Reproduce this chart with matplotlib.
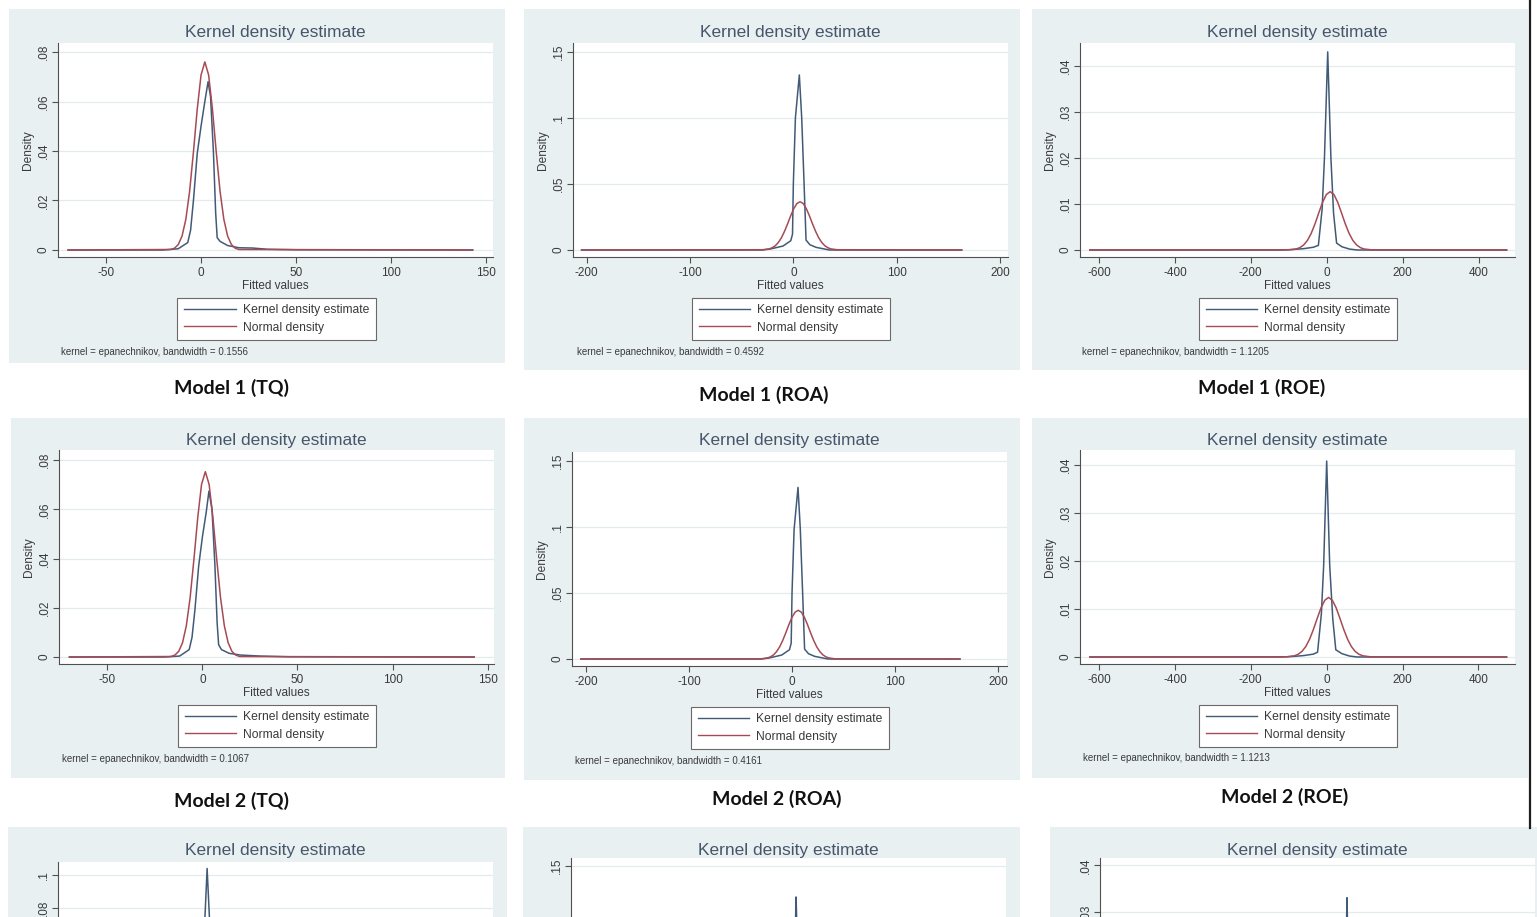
import matplotlib
matplotlib.use("Agg")
import matplotlib.pyplot as plt
from matplotlib.lines import Line2D
from matplotlib.patches import Rectangle

# ---------------------------------------------------------------- data
# Model 1 (TQ)
m1_tq_kde_x = [-70, -20, -12, -7, -5.5, -4, -2, 0, 2, 3.7, 5, 6.5, 7.7, 8.5, 10, 14, 20, 27, 35, 50, 143]
m1_tq_kde_y = [0, 0, 0.0005, 0.003, 0.008, 0.020, 0.039, 0.050, 0.060, 0.068, 0.062, 0.040, 0.015, 0.005,
               0.0035, 0.0018, 0.0009, 0.0008, 0.0003, 0.0001, 0]
m1_tq_norm_x = [-70, -16, -14, -12, -10, -8, -6, -4, -2, 0, 2, 4, 6, 8, 10, 12, 14, 16, 18, 20, 143]
m1_tq_norm_y = [0, 0.0002, 0.0007, 0.0022, 0.0056, 0.0124, 0.0238, 0.0396, 0.0569, 0.0707, 0.0760,
                0.0707, 0.0569, 0.0396, 0.0238, 0.0124, 0.0056, 0.0022, 0.0007, 0.0002, 0]

# Model 1 (ROA)
m1_roa_kde_x = [-205, -30, -22, -10, -2.5, -0.8, 0, 2, 5.8, 8.1, 10.4, 12.3, 16, 22, 35, 163]
m1_roa_kde_y = [0, 0, 0.0008, 0.003, 0.007, 0.012, 0.050, 0.100, 0.1324, 0.100, 0.050, 0.0075, 0.004,
                0.002, 0, 0]
m1_roa_norm_x = [-205, -29.5, -23.5, -20.5, -17.5, -14.5, -11.5, -8.5, -5.5, -2.5, 0.5, 3.5, 6.5, 9.5,
                 12.5, 15.5, 18.5, 21.5, 24.5, 27.5, 30.5, 33.5, 36.5, 42.5, 163]
m1_roa_norm_y = [0, 0.0002, 0.0008, 0.0017, 0.0032, 0.0057, 0.0093, 0.0142, 0.0199, 0.0260, 0.0314,
                 0.0352, 0.0365, 0.0352, 0.0314, 0.0260, 0.0199, 0.0142, 0.0093, 0.0057, 0.0032,
                 0.0017, 0.0008, 0.0002, 0]

# Model 1 (ROE)
m1_roe_kde_x = [-624, -120, -90, -60, -35, -22, -12, -6, 2.6, 11, 18, 26, 40, 60, 80, 474]
m1_roe_kde_y = [0, 0, 0.0001, 0.0003, 0.0006, 0.001, 0.009, 0.020, 0.043, 0.020, 0.008, 0.0015,
                0.0007, 0.0002, 0, 0]
m1_roe_norm_x = [-624, -101, -81, -71, -61, -51, -41, -31, -21, -11, -1, 9, 19, 29, 39, 49, 59, 69,
                 79, 89, 99, 119, 474]
m1_roe_norm_y = [0, 0.00003, 0.00021, 0.0005, 0.00107, 0.00206, 0.00359, 0.00565, 0.00804, 0.01035,
                 0.01204, 0.01266, 0.01204, 0.01035, 0.00804, 0.00565, 0.00359, 0.00206, 0.00107,
                 0.0005, 0.00021, 0.00003, 0]

# Model 2 (TQ)
m2_tq_kde_x = [-70, -20, -12, -7, -5.5, -4, -2, 0, 2, 3.4, 5, 6.5, 7.7, 8.5, 10, 14, 20, 30, 45, 143]
m2_tq_kde_y = [0, 0, 0.0004, 0.003, 0.008, 0.019, 0.037, 0.049, 0.059, 0.0674, 0.060, 0.038, 0.014,
               0.005, 0.003, 0.0015, 0.0008, 0.0004, 0.0001, 0]
m2_tq_norm_x = [-70, -16.5, -14.5, -12.5, -10.5, -8.5, -6.5, -4.5, -2.5, -0.5, 1.5, 3.5, 5.5, 7.5,
                9.5, 11.5, 13.5, 15.5, 17.5, 19.5, 143]
m2_tq_norm_y = [0, 0.0002, 0.0008, 0.0023, 0.0058, 0.0127, 0.0241, 0.0397, 0.0566, 0.0701, 0.0753,
                0.0701, 0.0566, 0.0397, 0.0241, 0.0127, 0.0058, 0.0023, 0.0008, 0.0002, 0]

# Model 2 (ROA)
m2_roa_kde_x = [-205, -30, -22, -10, -2.5, -0.8, 0, 2, 5.8, 8, 10.3, 12.2, 16, 22, 35, 163]
m2_roa_kde_y = [0, 0, 0.0008, 0.003, 0.007, 0.012, 0.050, 0.098, 0.130, 0.099, 0.050, 0.0075, 0.004,
                0.002, 0, 0]
m2_roa_norm_x = [-205, -30, -24, -21, -18, -15, -12, -9, -6, -3, 0, 3, 6, 9, 12, 15, 18, 21, 24, 27,
                 30, 33, 36, 42, 163]
m2_roa_norm_y = [0, 0.0001, 0.0008, 0.0016, 0.0031, 0.0056, 0.0092, 0.0141, 0.0199, 0.0261, 0.0316,
                 0.0355, 0.0369, 0.0355, 0.0316, 0.0261, 0.0199, 0.0141, 0.0092, 0.0056, 0.0031,
                 0.0016, 0.0008, 0.0001, 0]

# Model 2 (ROE)
m2_roe_kde_x = [-624, -120, -90, -60, -35, -24, -14, -8, 0, 8, 16, 24, 40, 60, 80, 474]
m2_roe_kde_y = [0, 0, 0.0001, 0.0003, 0.0006, 0.001, 0.009, 0.019, 0.0408, 0.019, 0.008, 0.0015,
                0.0007, 0.0002, 0, 0]
m2_roe_norm_x = [-624, -105, -85, -75, -65, -55, -45, -35, -25, -15, -5, 5, 15, 25, 35, 45, 55, 65,
                 75, 85, 95, 115, 474]
m2_roe_norm_y = [0, 0.00004, 0.00025, 0.00057, 0.00117, 0.00218, 0.00371, 0.00573, 0.00803, 0.01022,
                 0.01181, 0.0124, 0.01181, 0.01022, 0.00803, 0.00573, 0.00371, 0.00218, 0.00117,
                 0.00057, 0.00025, 0.00004, 0]

# Model 3 (top of the third row)
m3_tq_kde_x = [-70, -15, -5, -1, 1.5, 3.2, 5, 7.5, 12, 20, 143]
m3_tq_kde_y = [0, 0, 0.002, 0.006, 0.060, 0.104, 0.060, 0.006, 0.002, 0, 0]
m3_tq_norm_x = [-70, -16, -12, -8, -4, 0, 2, 4, 8, 12, 16, 20, 143]
m3_tq_norm_y = [0, 0.0003, 0.0025, 0.0135, 0.041, 0.066, 0.070, 0.066, 0.041, 0.0135, 0.0025, 0.0003, 0]
m3_roa_kde_x = [-205, -20, -3, 0, 1.5, 3, 4.5, 6, 9, 20, 163]
m3_roa_kde_y = [0, 0, 0.004, 0.008, 0.080, 0.1265, 0.080, 0.008, 0.004, 0, 0]
m3_roa_norm_x = [-205, -30, -20, -10, -5, 0, 5, 10, 15, 20, 30, 40, 163]
m3_roa_norm_y = [0, 0.0002, 0.002, 0.0139, 0.0241, 0.0333, 0.037, 0.0333, 0.0241, 0.0139, 0.002, 0.0002, 0]
m3_roe_kde_x = [-624, -60, -20, -8, -3, 0, 3, 8, 20, 60, 474]
m3_roe_kde_y = [0, 0, 0.001, 0.003, 0.020, 0.033, 0.020, 0.003, 0.001, 0, 0]
m3_roe_norm_x = [-624, -100, -70, -40, -20, 0, 20, 40, 70, 100, 474]
m3_roe_norm_y = [0, 0.0001, 0.0012, 0.0058, 0.0102, 0.0125, 0.0102, 0.0058, 0.0012, 0.0001, 0]

# ticks
tq_xticks = [-50, 0, 50, 100, 150]
roa_xticks = [-200, -100, 0, 100, 200]
roe_xticks = [-600, -400, -200, 0, 200, 400]
tq_yticks = [0, 0.02, 0.04, 0.06, 0.08]
tq_ylabels = ["0", ".02", ".04", ".06", ".08"]
roa_yticks = [0, 0.05, 0.1, 0.15]
roa_ylabels = ["0", ".05", ".1", ".15"]
roe_yticks = [0, 0.01, 0.02, 0.03, 0.04]
roe_ylabels = ["0", ".01", ".02", ".03", ".04"]
# third row: only the upper ticks fall on the page
tq3_yticks = [0.08, 0.1]
tq3_ylabels = [".08", ".1"]
roa3_yticks = [0.15]
roa3_ylabels = [".15"]
roe3_yticks = [0.03, 0.04]
roe3_ylabels = [".03", ".04"]

model1_labels = ["Model 1 (TQ)", "Model 1 (ROA)", "Model 1 (ROE)"]
model2_labels = ["Model 2 (TQ)", "Model 2 (ROA)", "Model 2 (ROE)"]
model1_bandwidths = ["0.1556", "0.4592", "1.1205"]
model2_bandwidths = ["0.1067", "0.4161", "1.1213"]
legend_labels = ["Kernel density estimate", "Normal density"]

# ---------------------------------------------------------------- style
PANEL_BG = "#E9F0F2"
KDE_COLOR = "#415A78"
NORM_COLOR = "#A54B55"
AXIS_COLOR = "#505050"
TEXT_COLOR = "#3A3A3A"
TITLE_COLOR = "#46566A"
GRID_COLOR = "#E4EBEE"
FONT = "Liberation Sans"
plt.rcParams["font.family"] = FONT

W, H = 1537, 917
fig = plt.figure(figsize=(W / 100, H / 100), dpi=100)
fig.patch.set_facecolor("white")


def fig_box(x0, y0, x1, y1):
    return [x0 / W, 1 - y1 / H, (x1 - x0) / W, (y1 - y0) / H]


def fig_pt(x, y):
    return x / W, 1 - y / H


def draw_panel(bg, plot, title_y, xlim, ylim, xticks, yticks, ylabels, kde, norm,
               legend_at=None, note=None, label=None, lower_texts=True):
    x0, y0, x1, y1 = bg
    fig.add_artist(Rectangle((x0 / W, 1 - y1 / H), (x1 - x0) / W, (y1 - y0) / H,
                             transform=fig.transFigure, facecolor=PANEL_BG,
                             edgecolor="none", zorder=-1))
    ax = fig.add_axes(fig_box(*plot))
    ax.set_facecolor("white")
    w_px = plot[2] - plot[0]
    h_px = plot[3] - plot[1]

    ax.plot(kde[0], kde[1], color=KDE_COLOR, lw=1.1, zorder=3)
    ax.plot(norm[0], norm[1], color=NORM_COLOR, lw=1.1, zorder=3)

    ax.set_xlim(*xlim)
    ax.set_ylim(*ylim)
    ax.set_xticks(xticks)
    ax.set_xticklabels([str(v) for v in xticks])
    ax.set_yticks(yticks)
    ax.set_yticklabels(ylabels, rotation=90, va="center")
    ax.tick_params(direction="out", length=4.5, width=0.8, color=AXIS_COLOR,
                   labelsize=8.5, labelcolor=TEXT_COLOR)
    ax.tick_params(axis="x", pad=3, labelbottom=lower_texts)
    ax.tick_params(axis="y", pad=1.5)
    for side in ("top", "right"):
        ax.spines[side].set_visible(False)
    for side in ("left", "bottom"):
        ax.spines[side].set_color(AXIS_COLOR)
        ax.spines[side].set_linewidth(0.8)
    ax.yaxis.grid(True, color=GRID_COLOR, lw=0.9)
    ax.set_axisbelow(True)

    cx = (plot[0] + plot[2]) / 2
    fig.text(*fig_pt(cx, title_y), "Kernel density estimate",
             ha="center", va="center", fontsize=12.5, color=TITLE_COLOR)
    if lower_texts:
        ax.text(0.5, -29 / h_px, "Fitted values", transform=ax.transAxes,
                ha="center", va="center", fontsize=8.5, color=TEXT_COLOR)
        ax.text(-30 / w_px, 0.5, "Density", transform=ax.transAxes, rotation=90,
                ha="center", va="center", fontsize=8.6, color=TEXT_COLOR)

    if legend_at is not None:
        handles = [Line2D([], [], color=KDE_COLOR, lw=1.0),
                   Line2D([], [], color=NORM_COLOR, lw=1.0)]
        leg = ax.legend(handles, legend_labels, loc="center",
                        bbox_to_anchor=fig_pt(*legend_at), bbox_transform=fig.transFigure,
                        fontsize=8.7, frameon=True, fancybox=False, framealpha=1,
                        edgecolor="#6A6A6A", facecolor="white", handlelength=4.3,
                        handletextpad=0.55, borderpad=0.55, labelspacing=0.43)
        leg.get_frame().set_linewidth(0.8)
        for t in leg.get_texts():
            t.set_color(TEXT_COLOR)
    if note is not None:
        nx, ny, bw = note
        fig.text(*fig_pt(nx, ny), f"kernel = epanechnikov, bandwidth = {bw}",
                 ha="left", va="center", fontsize=7, color=TEXT_COLOR)
    if label is not None:
        lx, ly, txt = label
        fig.text(*fig_pt(lx, ly), txt, ha="center", va="center", fontsize=14,
                 fontweight="bold", family="Lato", color="#111111")
    return ax


# ---------------------------------------------------------------- row 1
draw_panel((9, 9, 505, 363), (58, 43, 493, 257), 33, (-75.3, 153.7), (-0.00283, 0.08364),
           tq_xticks, tq_yticks, tq_ylabels, (m1_tq_kde_x, m1_tq_kde_y), (m1_tq_norm_x, m1_tq_norm_y),
           legend_at=(276.5, 319), note=(61, 352, model1_bandwidths[0]),
           label=(231, 388, model1_labels[0]))
draw_panel((524, 9, 1020, 370), (573, 43, 1008, 257), 33, (-213.3, 207.8), (-0.0053, 0.1566),
           roa_xticks, roa_yticks, roa_ylabels, (m1_roa_kde_x, m1_roa_kde_y),
           (m1_roa_norm_x, m1_roa_norm_y),
           legend_at=(791, 319), note=(577, 352, model1_bandwidths[1]),
           label=(764, 395, model1_labels[1]))
draw_panel((1032, 9, 1528, 370), (1080, 43, 1515, 257), 33, (-650, 496), (-0.00152, 0.04493),
           roe_xticks, roe_yticks, roe_ylabels, (m1_roe_kde_x, m1_roe_kde_y),
           (m1_roe_norm_x, m1_roe_norm_y),
           legend_at=(1298, 319), note=(1082, 352, model1_bandwidths[2]),
           label=(1262, 388, model1_labels[2]))

# ---------------------------------------------------------------- row 2
draw_panel((11, 418, 505, 778), (59, 450, 494, 664), 440, (-75.5, 153.4), (-0.00284, 0.0841),
           tq_xticks, tq_yticks, tq_ylabels, (m2_tq_kde_x, m2_tq_kde_y), (m2_tq_norm_x, m2_tq_norm_y),
           legend_at=(277, 726), note=(62, 759, model2_bandwidths[0]),
           label=(231, 801, model2_labels[0]))
draw_panel((524, 418, 1020, 780), (572, 452, 1007, 666), 441, (-213.6, 208.7), (-0.0053, 0.1568),
           roa_xticks, roa_yticks, roa_ylabels, (m2_roa_kde_x, m2_roa_kde_y),
           (m2_roa_norm_x, m2_roa_norm_y),
           legend_at=(790, 728), note=(575, 761, model2_bandwidths[1]),
           label=(777, 799, model2_labels[1]))
draw_panel((1032, 418, 1528, 778), (1080, 450, 1515, 664), 440, (-650, 496.2), (-0.00146, 0.0431),
           roe_xticks, roe_yticks, roe_ylabels, (m2_roe_kde_x, m2_roe_kde_y),
           (m2_roe_norm_x, m2_roe_norm_y),
           legend_at=(1298, 726), note=(1083, 758, model2_bandwidths[2]),
           label=(1285, 797, model2_labels[2]))

# ---------------------------------------------------------------- row 3 (runs off the page)
draw_panel((8, 827, 507, 1100), (58, 862, 493, 1047), 851, (-75.3, 153.7), (-0.0042, 0.1079),
           tq_xticks, tq3_yticks, tq3_ylabels, (m3_tq_kde_x, m3_tq_kde_y), (m3_tq_norm_x, m3_tq_norm_y),
           lower_texts=False)
draw_panel((523, 827, 1020, 1100), (571, 858, 1006, 1071), 851, (-214.9, 206.2), (-0.0053, 0.156),
           roa_xticks, roa3_yticks, roa3_ylabels, (m3_roa_kde_x, m3_roa_kde_y),
           (m3_roa_norm_x, m3_roa_norm_y), lower_texts=False)
# dark page edge on the right of the upper rows
fig.add_artist(Line2D([1530 / W, 1530 / W], [1 - 0 / H, 1 - 828 / H], transform=fig.transFigure,
                      color="#1E1E1E", lw=1.6, zorder=-0.5))
draw_panel((1050, 827, 1537, 1100), (1100, 858, 1535, 1057), 851, (-650.9, 495.4), (-0.0015, 0.0416),
           roe_xticks, roe3_yticks, roe3_ylabels, (m3_roe_kde_x, m3_roe_kde_y),
           (m3_roe_norm_x, m3_roe_norm_y), lower_texts=False)

fig.savefig("out.png", dpi=100, facecolor="white")
